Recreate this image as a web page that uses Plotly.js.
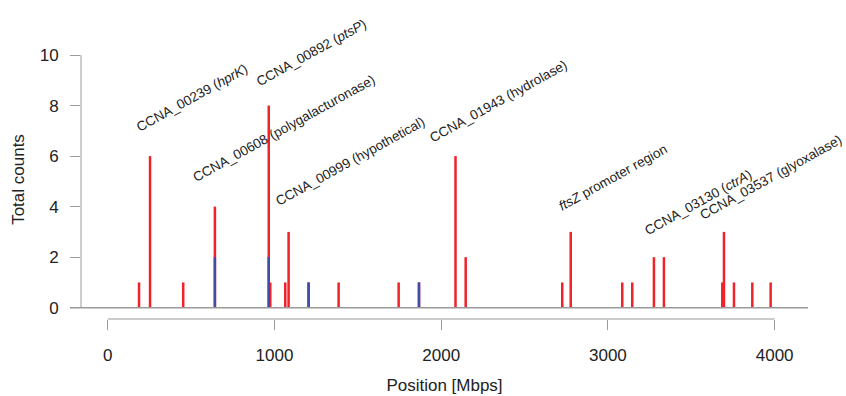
<!DOCTYPE html>
<html>
<head>
<meta charset="utf-8">
<script src="https://cdn.plot.ly/plotly-3.0.1.min.js"></script>
<style>html,body{margin:0;padding:0;background:#fff;}#chart{width:846px;height:396px;}</style>
</head>
<body>
<div id="chart"></div>
<script>
// Insertion positions (Mbps) and counts
var positions = [188, 254, 453, 643, 966, 975, 1065, 1085, 1205, 1385, 1745, 1867, 2086, 2147, 2726, 2777, 3086, 3146, 3276, 3336, 3686, 3696, 3756, 3866, 3976];
var totalCounts = [1, 6, 1, 4, 8, 1, 1, 3, 1, 1, 1, 1, 6, 2, 1, 3, 1, 1, 2, 2, 1, 3, 1, 1, 1];
var blueCounts  = [0, 0, 0, 2, 2, 0, 0, 0, 1, 0, 0, 1, 0, 0, 0, 0, 0, 0, 0, 0, 0, 0, 0, 0, 0];

// Gene labels
var labelText = ["CCNA_00239 (<i>hprK</i>)", "CCNA_00892 (<i>ptsP</i>)", "CCNA_00608 (polygalacturonase)", "CCNA_00999 (hypothetical)", "CCNA_01943 (hydrolase)", "<i>ftsZ</i> promoter region", "CCNA_03130 (<i>ctrA</i>)", "CCNA_03537 (glyoxalase)"];
var labelX = [511, 1225, 1057, 1453, 2341, 3030, 3540, 3976];
var labelY = [8.30, 10.08, 7.11, 5.80, 8.18, 5.17, 4.18, 5.16];

var xTicks = [0, 1000, 2000, 3000, 4000];
var yTicks = [0, 2, 4, 6, 8, 10];

var RED = "#F0222A", BLUE = "#3F4DA8", GRAY = "#9a9a9a", TXT = "#222222";
var xr = [-160, 4200];
var yr = [-0.447, 10.594];
function xp(v){ return (v - xr[0]) / (xr[1] - xr[0]); }
function yp(v){ return (v - yr[0]) / (yr[1] - yr[0]); }

var traces = [
  {type: "bar", x: positions, y: totalCounts, width: 15, marker: {color: RED, line: {width: 0}}, hoverinfo: "x+y", showlegend: false},
  {type: "bar", x: positions, y: blueCounts, width: 15, marker: {color: BLUE, line: {width: 0}}, hoverinfo: "x+y", showlegend: false}
];

var annotations = labelText.map(function(t, i){
  return {x: labelX[i], y: labelY[i], xref: "x", yref: "y", text: t, showarrow: false,
          textangle: -29, xanchor: "center", yanchor: "middle",
          font: {family: "Liberation Sans, Arial, sans-serif", size: 13.5, color: TXT}};
});

var shapes = [
  // baseline at zero
  {type: "line", xref: "paper", yref: "paper", x0: -11/727, x1: 1, y0: yp(0), y1: yp(0), line: {color: GRAY, width: 1.5}},
  // y axis line from 0 to 10
  {type: "line", xref: "paper", yref: "paper", x0: 0, x1: 0, y0: yp(yTicks[0]), y1: yp(yTicks[yTicks.length-1]), line: {color: GRAY, width: 1}},
  // x axis line from 0 to 4000
  {type: "line", xref: "paper", yref: "paper", x0: xp(xTicks[0]), x1: xp(xTicks[xTicks.length-1]), y0: 0, y1: 0, line: {color: GRAY, width: 1}}
];

var layout = {
  width: 846, height: 396,
  margin: {l: 81, r: 38, t: 40, b: 77},
  paper_bgcolor: "#fff", plot_bgcolor: "#fff",
  font: {family: "Liberation Sans, Arial, sans-serif", size: 17, color: TXT},
  barmode: "overlay",
  showlegend: false,
  xaxis: {
    range: xr, showgrid: false, zeroline: false, showline: false,
    tickmode: "array", tickvals: xTicks, ticktext: xTicks.map(String),
    ticks: "outside", ticklen: 10, tickcolor: GRAY, tickwidth: 1,
    ticklabelstandoff: 11,
    title: {text: "Position [Mbps]", standoff: 14, font: {size: 17, color: TXT}},
    automargin: false, fixedrange: true
  },
  yaxis: {
    range: yr, showgrid: false, zeroline: false, showline: false,
    tickmode: "array", tickvals: yTicks, ticktext: yTicks.map(String),
    ticks: "outside", ticklen: 10, tickcolor: GRAY, tickwidth: 1,
    ticklabelstandoff: 8,
    title: {text: "Total counts", standoff: 10, font: {size: 17, color: TXT}},
    automargin: false, fixedrange: true
  },
  shapes: shapes,
  annotations: annotations
};

Plotly.newPlot("chart", traces, layout, {displayModeBar: false, staticPlot: true});
</script>
</body>
</html>
